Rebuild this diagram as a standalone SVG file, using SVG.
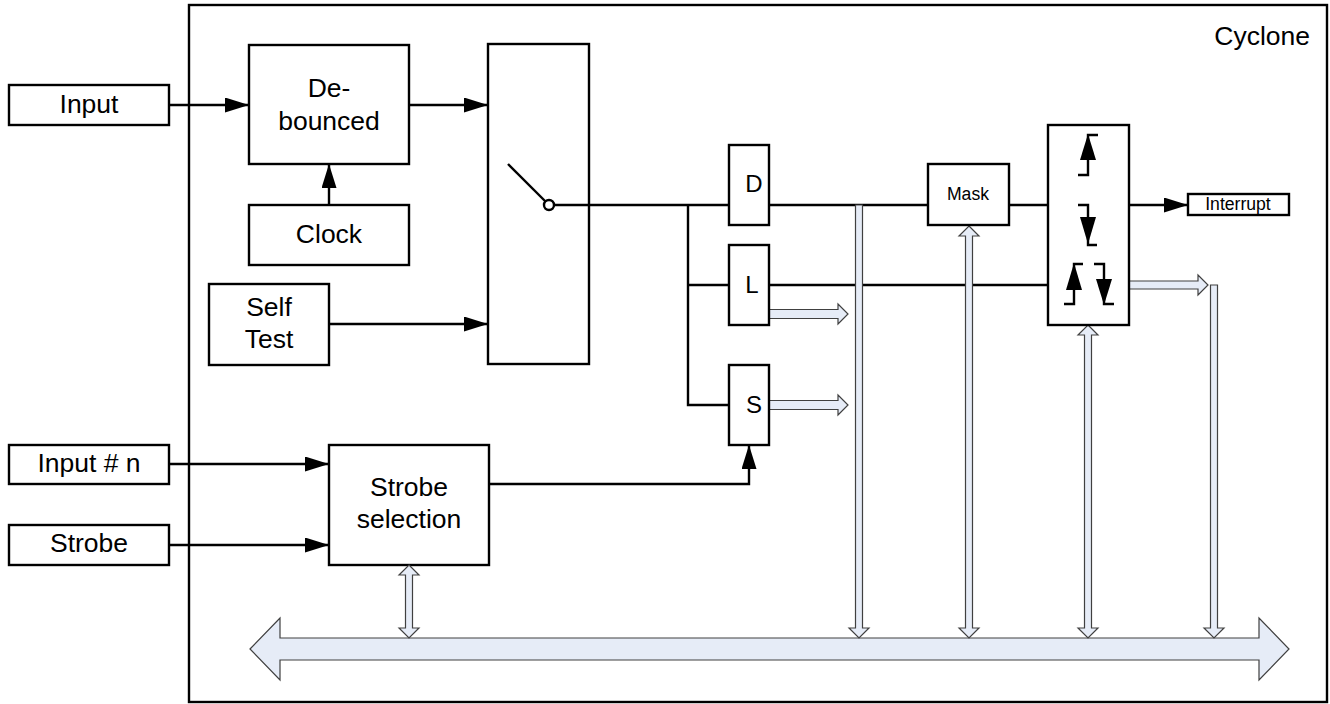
<svg xmlns="http://www.w3.org/2000/svg" width="1330" height="704" viewBox="0 0 1330 704">
<style>
.box{fill:#fff;stroke:#000;stroke-width:2.4}
.ln{fill:none;stroke:#000;stroke-width:2.4}
.t{font-family:"Liberation Sans",Arial,sans-serif;font-size:26.5px;fill:#000;text-anchor:middle}
.ts{font-family:"Liberation Sans",Arial,sans-serif;font-size:17.6px;fill:#000;text-anchor:middle}
.bus{fill:#E6ECF7;stroke:#404040;stroke-width:1.2}
.sym{fill:none;stroke:#000;stroke-width:2.4}
.tri{fill:#000}
</style>
<defs>
<marker id="ah" markerUnits="userSpaceOnUse" markerWidth="24" markerHeight="15" refX="24" refY="7.5" orient="auto">
<path d="M0,0 L24,7.5 L0,15 Z" fill="#000"/>
</marker>
</defs>
<rect width="1330" height="704" fill="#fff"/>
<g id="cyclone">
<rect x="189" y="5" width="1138" height="697" fill="none" stroke="#000" stroke-width="2.4"/>
<text class="t" x="1310" y="45" style="text-anchor:end">Cyclone</text>
</g>
<g id="bus">
<path class="bus" d="M250,649 L280,618 L280,638 L1259,638 L1259,618 L1289,649 L1259,680 L1259,660 L280,660 L280,680 Z"/>
</g>
<g id="input"><rect class="box" x="9" y="85" width="160" height="40"/><text class="t" x="89" y="113">Input</text></g>
<g id="debounced"><rect class="box" x="249" y="45" width="160" height="119"/><text class="t" x="329" y="97">De-</text><text class="t" x="329" y="130">bounced</text></g>
<g id="clock"><rect class="box" x="249" y="205" width="160" height="60"/><text class="t" x="329" y="243">Clock</text></g>
<g id="selftest"><rect class="box" x="209" y="284" width="120" height="81"/><text class="t" x="269" y="316">Self</text><text class="t" x="269" y="348">Test</text></g>
<g id="switch"><rect class="box" x="488" y="44" width="101" height="320"/>
<line class="ln" x1="508" y1="164" x2="545.5" y2="201.5"/>
<circle cx="549" cy="205" r="5" fill="#fff" stroke="#000" stroke-width="2.4"/></g>
<g id="inputn"><rect class="box" x="9" y="445" width="160" height="39"/><text class="t" x="89" y="472">Input # n</text></g>
<g id="strobe"><rect class="box" x="9" y="525" width="160" height="40"/><text class="t" x="89" y="552">Strobe</text></g>
<g id="strobesel"><rect class="box" x="329" y="445" width="160" height="120"/><text class="t" x="409" y="496">Strobe</text><text class="t" x="409" y="528">selection</text></g>
<g id="connectors">
<line class="ln" x1="169" y1="105" x2="249" y2="105" marker-end="url(#ah)"/>
<line class="ln" x1="329" y1="205" x2="329" y2="164" marker-end="url(#ah)"/>
<line class="ln" x1="409" y1="105" x2="488" y2="105" marker-end="url(#ah)"/>
<line class="ln" x1="329" y1="324" x2="488" y2="324" marker-end="url(#ah)"/>
<line class="ln" x1="169" y1="464" x2="329" y2="464" marker-end="url(#ah)"/>
<line class="ln" x1="169" y1="545" x2="329" y2="545" marker-end="url(#ah)"/>
<polyline class="ln" points="489,484 749,484 749,445" marker-end="url(#ah)"/>
<line class="ln" x1="554" y1="205" x2="729" y2="205"/>
<polyline class="ln" points="688,205 688,405 729,405"/>
<line class="ln" x1="688" y1="285" x2="729" y2="285"/>
<line class="ln" x1="769" y1="205" x2="928" y2="205"/>
<line class="ln" x1="1009" y1="205" x2="1048" y2="205"/>
<line class="ln" x1="769" y1="285" x2="1048" y2="285"/>
<line class="ln" x1="1129" y1="205" x2="1188" y2="205" marker-end="url(#ah)"/>
<path class="bus" d="M769,309.5 L838,309.5 L838,304 L848,314 L838,324 L838,318.5 L769,318.5 Z"/>
<path class="bus" d="M769,400.5 L838,400.5 L838,395 L848,405 L838,415 L838,409.5 L769,409.5 Z"/>
<path class="bus" d="M1129,281 L1198,281 L1198,275 L1208,285 L1198,295 L1198,289 L1129,289 Z"/>
<path class="bus" d="M855.5,205 L862.5,205 L862.5,628 L869,628 L859,638 L849,628 L855.5,628 Z"/>
<path class="bus" d="M1210.5,285 L1217.5,285 L1217.5,628 L1224,628 L1214,638 L1204,628 L1210.5,628 Z"/>
<path class="bus" d="M409,565 L419,575 L412.5,575 L412.5,628 L419,628 L409,638 L399,628 L405.5,628 L405.5,575 L399,575 Z"/>
<path class="bus" d="M969,226 L979,236 L972.5,236 L972.5,628 L979,628 L969,638 L959,628 L965.5,628 L965.5,236 L959,236 Z"/>
<path class="bus" d="M1088,325 L1098,335 L1091.5,335 L1091.5,628 L1098,628 L1088,638 L1078,628 L1084.5,628 L1084.5,335 L1078,335 Z"/>
</g>
<g id="d"><rect class="box" x="729" y="145" width="40" height="80"/><text class="t" x="754" y="192" style="font-size:24px">D</text></g>
<g id="l"><rect class="box" x="729" y="245" width="40" height="80"/><text class="t" x="752" y="293" style="font-size:24px">L</text></g>
<g id="s"><rect class="box" x="729" y="365" width="40" height="80"/><text class="t" x="754" y="413" style="font-size:24px">S</text></g>
<g id="mask"><rect class="box" x="928" y="164" width="81" height="61"/><text class="ts" x="968" y="200">Mask</text></g>
<g id="edge"><rect class="box" x="1048" y="125" width="81" height="200"/>
<polyline class="sym" points="1098,135 1088,135 1088,175 1078,175"/>
<path class="tri" d="M1088,134 L1096,160 L1080,160 Z"/>
<polyline class="sym" points="1078,205 1088,205 1088,245 1097,245"/>
<path class="tri" d="M1080,217 L1096,217 L1088,244 Z"/>
<polyline class="sym" points="1083,264 1074,264 1074,304 1064,304"/>
<path class="tri" d="M1074,263 L1082,290 L1066,290 Z"/>
<polyline class="sym" points="1094,264 1104,264 1104,304 1114,304"/>
<path class="tri" d="M1096,279 L1112,279 L1104,305 Z"/>
</g>
<g id="interrupt"><rect class="box" x="1188" y="194" width="101" height="21"/><text class="ts" x="1238" y="210">Interrupt</text></g>
</svg>
